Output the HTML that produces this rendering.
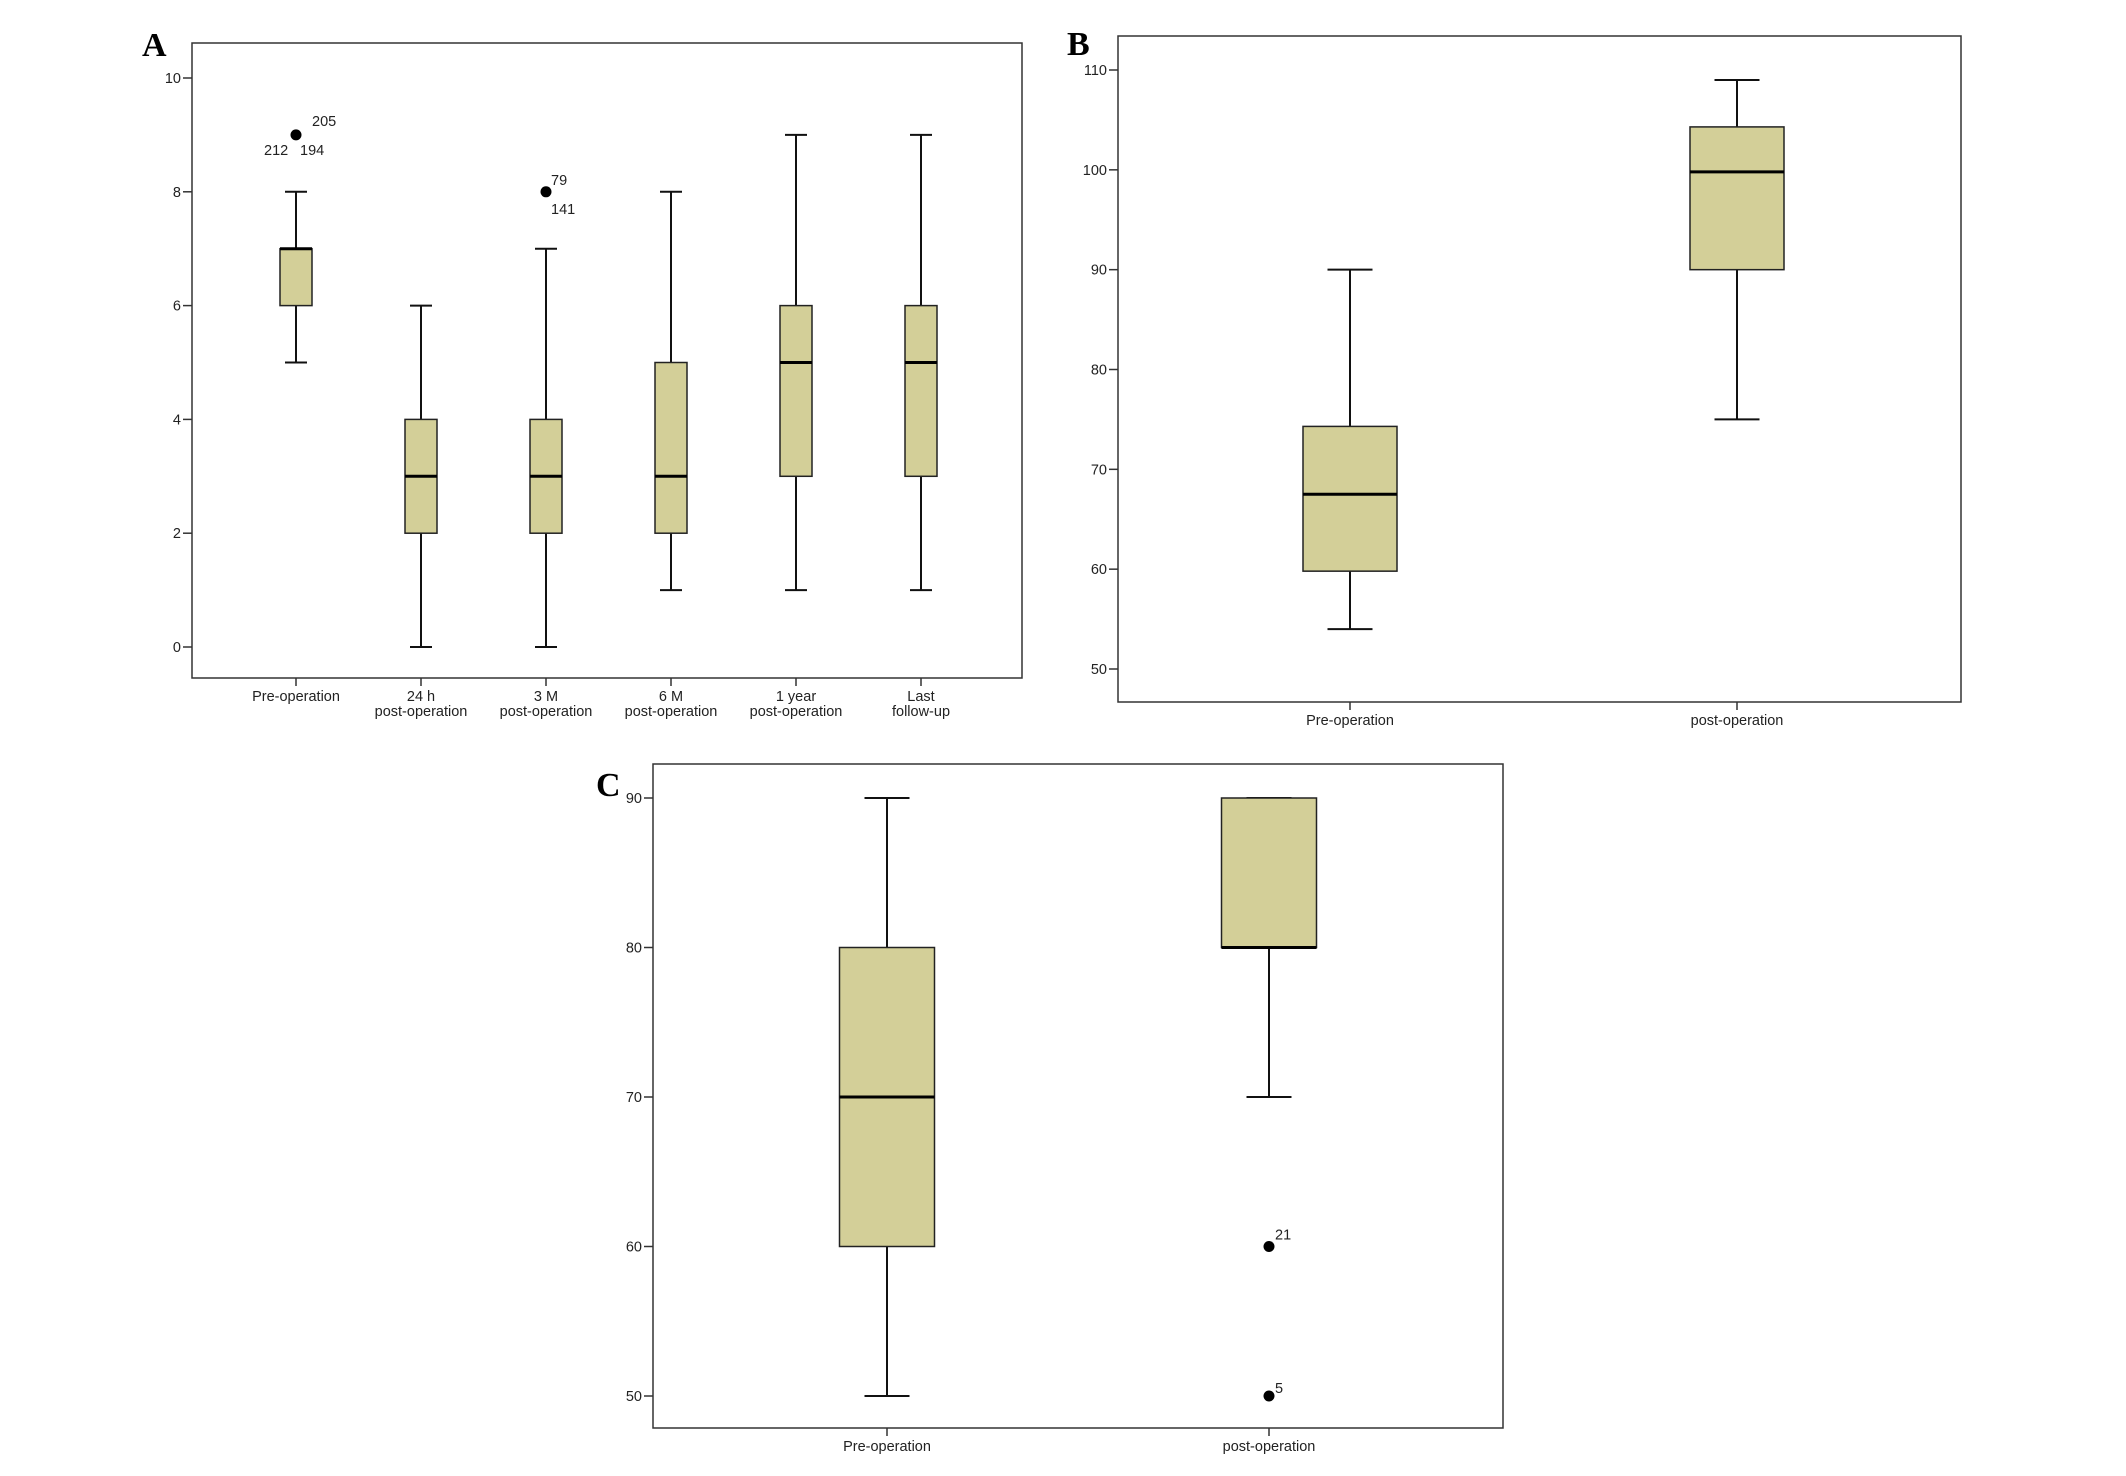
<!DOCTYPE html>
<html><head><meta charset="utf-8"><style>
body{margin:0;background:#fff;}
svg{display:block;}
text{font-family:"Liberation Sans",sans-serif;fill:#222;}
.pl{font-family:"Liberation Serif",serif;font-weight:bold;font-size:34px;fill:#000;}
</style></head><body>
<svg id="svg" width="2126" height="1476" viewBox="0 0 2126 1476" xmlns="http://www.w3.org/2000/svg">
<text class="pl" x="142" y="56">A</text>
<text class="pl" x="1067" y="55">B</text>
<text class="pl" x="596" y="796">C</text>
</svg>
<script>
// Panel A data
const catsA = [["Pre-operation"],["24 h","post-operation"],["3 M","post-operation"],["6 M","post-operation"],["1 year","post-operation"],["Last","follow-up"]];
const loA = [5,0,0,1,1,1];
const q1A = [6,2,2,2,3,3];
const medA = [7,3,3,3,5,5];
const q3A = [7,4,4,5,6,6];
const hiA = [8,6,7,8,9,9];
const outA = [[0,9],[2,8]];
const outLabA = [[["205",16,-14],["212",-32,15],["194",4,15]],[["79",5,-12],["141",5,17]]];
const ticksA = [0,2,4,6,8,10];
// Panel B data
const catsB = [["Pre-operation"],["post-operation"]];
const loB = [54,75];
const q1B = [59.8,90];
const medB = [67.5,99.8];
const q3B = [74.3,104.3];
const hiB = [90,109];
const ticksB = [50,60,70,80,90,100,110];
// Panel C data
const catsC = [["Pre-operation"],["post-operation"]];
const loC = [50,70];
const q1C = [60,80];
const medC = [70,80];
const q3C = [80,90];
const hiC = [90,90];
const outC = [[1,60],[1,50]];
const outLabC = [[["21",6,-12]],[["5",6,-8]]];
const ticksC = [50,60,70,80,90];

const svg = document.getElementById('svg');
const NS = 'http://www.w3.org/2000/svg';
function mk(tag, attrs, parent){
  const e = document.createElementNS(NS, tag);
  for (const k in attrs) e.setAttribute(k, attrs[k]);
  (parent||svg).appendChild(e);
  return e;
}
function panel(cfg){
  const g = mk('g', {});
  
  
  const y = v => cfg.y0 + (v - cfg.v0) * (cfg.y1 - cfg.y0) / (cfg.v1 - cfg.v0);
  const x = i => cfg.x0 + i * cfg.dx;
  const fr = mk('rect', {x:cfg.L, y:cfg.T, width:cfg.R-cfg.L, height:cfg.B-cfg.T, fill:'none', stroke:'#333', 'stroke-width':1.5}, g);
  
  
  cfg.ticks.forEach(t => {
    mk('line', {x1:cfg.L-9, x2:cfg.L, y1:y(t), y2:y(t), stroke:'#333', 'stroke-width':1.5}, g);
    const tx = mk('text', {x:cfg.L-11, y:y(t)+5, 'text-anchor':'end', 'font-size':14.5}, g);
    tx.textContent = t;
    
    
  });
  cfg.cats.forEach((c, i) => {
    const cx = x(i);
    mk('line', {x1:cx, x2:cx, y1:cfg.B, y2:cfg.B+8, stroke:'#333', 'stroke-width':1.5}, g);
    c.forEach((ln, j) => {
      const tx = mk('text', {x:cx, y:cfg.B+ 23 + j*15, 'text-anchor':'middle', 'font-size':14.5}, g);
      tx.textContent = ln;
      
      
    });
    const bg = mk('g', {}, g);
    
    
    const hw = cfg.bw/2, cw = cfg.cw/2;
    mk('line', {x1:cx, x2:cx, y1:y(cfg.hi[i]), y2:y(cfg.q3[i]), stroke:'#111', 'stroke-width':cfg.sw}, bg);
    mk('line', {x1:cx, x2:cx, y1:y(cfg.q1[i]), y2:y(cfg.lo[i]), stroke:'#111', 'stroke-width':cfg.sw}, bg);
    mk('line', {x1:cx-cw, x2:cx+cw, y1:y(cfg.hi[i]), y2:y(cfg.hi[i]), stroke:'#111', 'stroke-width':cfg.sw}, bg);
    mk('line', {x1:cx-cw, x2:cx+cw, y1:y(cfg.lo[i]), y2:y(cfg.lo[i]), stroke:'#111', 'stroke-width':cfg.sw}, bg);
    mk('rect', {x:cx-hw, y:y(cfg.q3[i]), width:cfg.bw, height:Math.max(0.5, y(cfg.q1[i])-y(cfg.q3[i])), fill:'#d3cf98', stroke:'#222', 'stroke-width':1.5}, bg);
    mk('line', {x1:cx-hw, x2:cx+hw, y1:y(cfg.med[i]), y2:y(cfg.med[i]), stroke:'#000', 'stroke-width':3}, bg);
  });
  (cfg.out||[]).forEach((o, k) => {
    const cx = x(o[0]), cy = y(o[1]);
    const c = mk('circle', {cx:cx, cy:cy, r:5.5, fill:'#000'}, g);
    
    
    cfg.outLab[k].forEach(l => {
      const t = mk('text', {x:cx+l[1], y:cy+l[2]+5, 'font-size':14.5}, g);
      t.textContent = l[0];
      
      
    });
  });
}
panel({name:'panel-a-boxplot', L:192, R:1022, T:43, B:678, y0:647, y1:78, v0:0, v1:10, x0:296, dx:125,
  cats:catsA, lo:loA, q1:q1A, med:medA, q3:q3A, hi:hiA, ticks:ticksA, out:outA, outLab:outLabA, bw:32, cw:22, sw:2});
panel({name:'panel-b-boxplot', L:1118, R:1961, T:36, B:702, y0:669, y1:70, v0:50, v1:110, x0:1350, dx:387,
  cats:catsB, lo:loB, q1:q1B, med:medB, q3:q3B, hi:hiB, ticks:ticksB, bw:94, cw:45, sw:2});
panel({name:'panel-c-boxplot', L:653, R:1503, T:764, B:1428, y0:1396, y1:798, v0:50, v1:90, x0:887, dx:382,
  cats:catsC, lo:loC, q1:q1C, med:medC, q3:q3C, hi:hiC, ticks:ticksC, out:outC, outLab:outLabC, bw:95, cw:45, sw:2});
</script>
</body></html>
